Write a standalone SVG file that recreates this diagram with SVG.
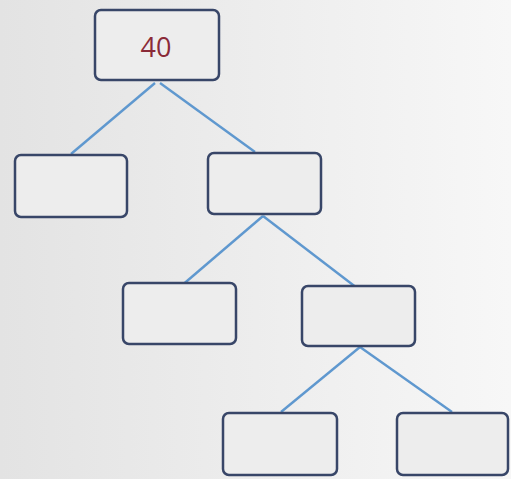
<svg xmlns="http://www.w3.org/2000/svg" width="511" height="479" viewBox="0 0 511 479">
<defs>
<linearGradient id="bg" x1="0" y1="0" x2="1" y2="0">
<stop offset="0" stop-color="#e3e3e3"/>
<stop offset="1" stop-color="#f7f7f7"/>
</linearGradient>
</defs>
<style>
.box{fill:#ededed;stroke:#384668;stroke-width:2.5}
.edge{stroke:#5f98cf;stroke-width:2.4;fill:none}
.lbl{font-family:"Open Sans","Liberation Sans",sans-serif;font-size:27px;fill:#8a2a38;text-anchor:middle}
</style>
<rect x="0" y="0" width="511" height="479" fill="url(#bg)"/>
<g id="connectors">
<line class="edge" x1="155" y1="83" x2="71" y2="154"/>
<line class="edge" x1="160" y1="83" x2="255" y2="152"/>
<line class="edge" x1="263" y1="216" x2="180" y2="287"/>
<line class="edge" x1="263" y1="216" x2="357" y2="288"/>
<line class="edge" x1="360" y1="347" x2="281" y2="412"/>
<line class="edge" x1="360" y1="347" x2="452" y2="412"/>
</g>
<g id="root">
<rect class="box" x="95" y="10" width="124" height="70" rx="6"/>
<text class="lbl" x="156" y="57">40</text>
</g>
<g id="n1"><rect class="box" x="15" y="155" width="112" height="62" rx="6"/></g>
<g id="n2"><rect class="box" x="208" y="153" width="113" height="61" rx="6"/></g>
<g id="n3"><rect class="box" x="123" y="283" width="113" height="61" rx="6"/></g>
<g id="n4"><rect class="box" x="302" y="286" width="113" height="60" rx="6"/></g>
<g id="n5"><rect class="box" x="223" y="413" width="114" height="62" rx="6"/></g>
<g id="n6"><rect class="box" x="397" y="413" width="111" height="62" rx="6"/></g>
</svg>
